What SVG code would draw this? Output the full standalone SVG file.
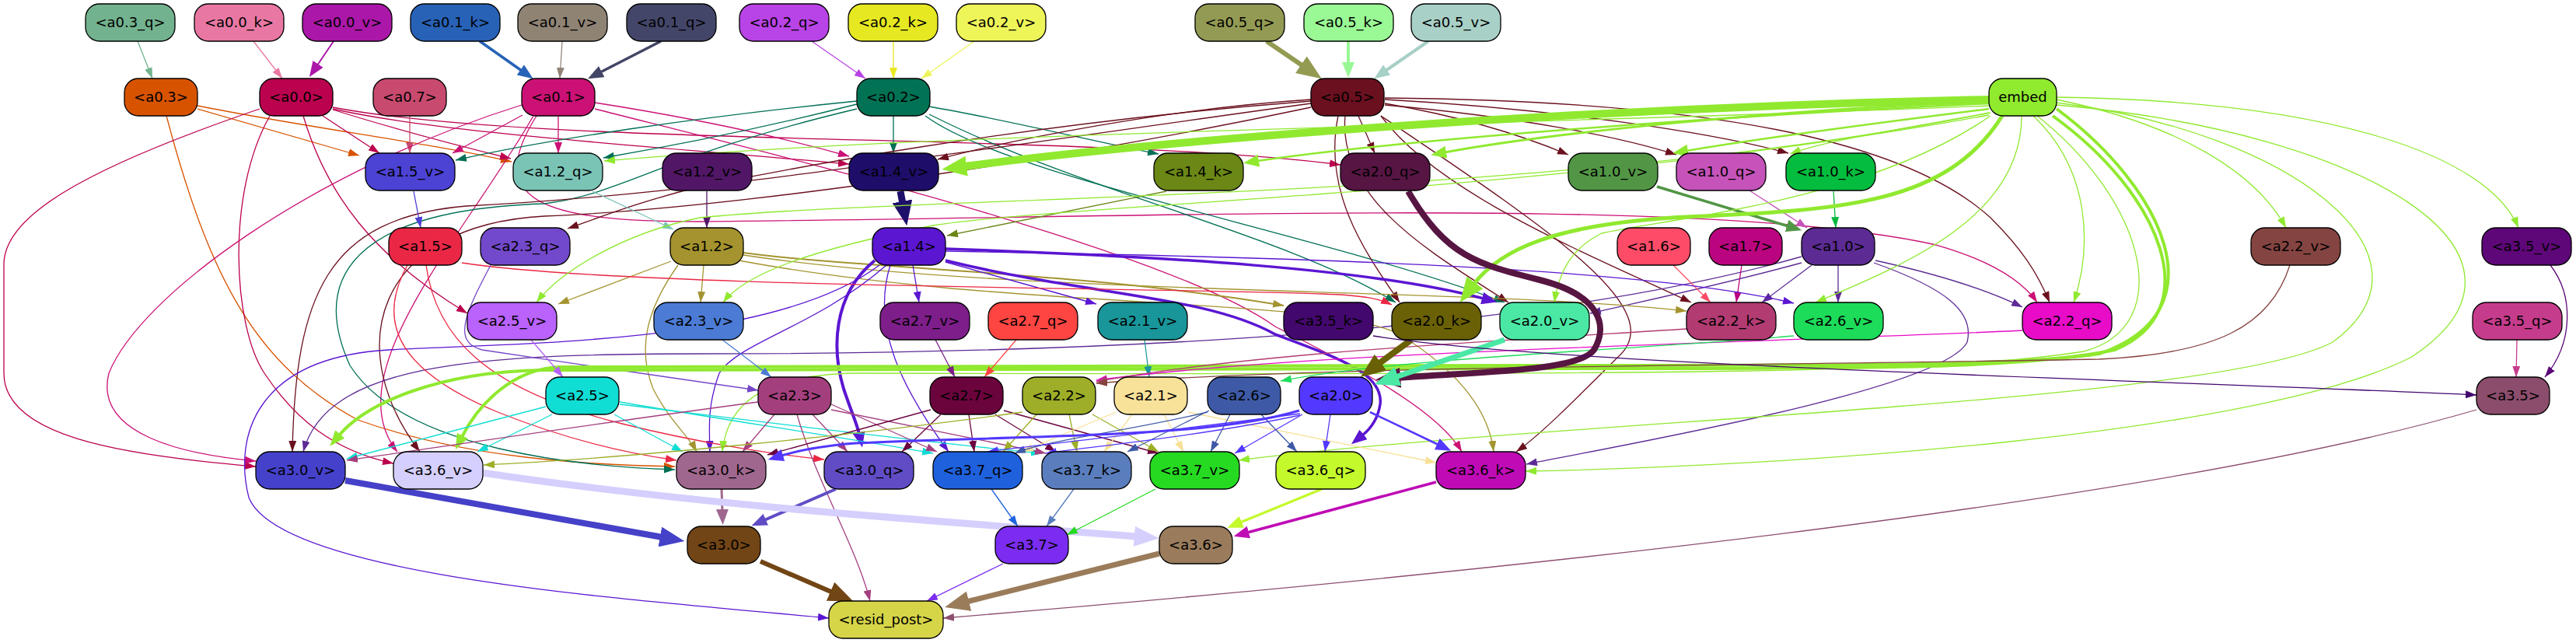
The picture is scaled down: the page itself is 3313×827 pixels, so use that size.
<svg xmlns="http://www.w3.org/2000/svg" width="3313" height="827" viewBox="0 0 3313 827">
<style>
.n rect{stroke:#000;stroke-width:1.3}
.n text{font-family:"DejaVu Sans","Liberation Sans",sans-serif;font-size:18px;text-anchor:middle;fill:#000}
#edges path{fill:none;stroke-width:1.3}
</style>
<defs>
<path id="ah" d="M0,0L10,5L0,10z"/>
<marker id="s73b38f" viewBox="0 0 10 10" refX="10" refY="5" markerWidth="14" markerHeight="10" markerUnits="userSpaceOnUse" orient="auto" preserveAspectRatio="none"><path d="M0,0L10,5L0,10z" fill="#73b38f"/></marker>
<marker id="se878a2" viewBox="0 0 10 10" refX="10" refY="5" markerWidth="14" markerHeight="10" markerUnits="userSpaceOnUse" orient="auto" preserveAspectRatio="none"><path d="M0,0L10,5L0,10z" fill="#e878a2"/></marker>
<marker id="s908376" viewBox="0 0 10 10" refX="10" refY="5" markerWidth="14" markerHeight="10" markerUnits="userSpaceOnUse" orient="auto" preserveAspectRatio="none"><path d="M0,0L10,5L0,10z" fill="#908376"/></marker>
<marker id="sb842e6" viewBox="0 0 10 10" refX="10" refY="5" markerWidth="14" markerHeight="10" markerUnits="userSpaceOnUse" orient="auto" preserveAspectRatio="none"><path d="M0,0L10,5L0,10z" fill="#b842e6"/></marker>
<marker id="se8e820" viewBox="0 0 10 10" refX="10" refY="5" markerWidth="14" markerHeight="10" markerUnits="userSpaceOnUse" orient="auto" preserveAspectRatio="none"><path d="M0,0L10,5L0,10z" fill="#e8e820"/></marker>
<marker id="seef55a" viewBox="0 0 10 10" refX="10" refY="5" markerWidth="14" markerHeight="10" markerUnits="userSpaceOnUse" orient="auto" preserveAspectRatio="none"><path d="M0,0L10,5L0,10z" fill="#eef55a"/></marker>
<marker id="sd85200" viewBox="0 0 10 10" refX="10" refY="5" markerWidth="14" markerHeight="10" markerUnits="userSpaceOnUse" orient="auto" preserveAspectRatio="none"><path d="M0,0L10,5L0,10z" fill="#d85200"/></marker>
<marker id="sbb024d" viewBox="0 0 10 10" refX="10" refY="5" markerWidth="14" markerHeight="10" markerUnits="userSpaceOnUse" orient="auto" preserveAspectRatio="none"><path d="M0,0L10,5L0,10z" fill="#bb024d"/></marker>
<marker id="sc84a6e" viewBox="0 0 10 10" refX="10" refY="5" markerWidth="14" markerHeight="10" markerUnits="userSpaceOnUse" orient="auto" preserveAspectRatio="none"><path d="M0,0L10,5L0,10z" fill="#c84a6e"/></marker>
<marker id="scb1175" viewBox="0 0 10 10" refX="10" refY="5" markerWidth="14" markerHeight="10" markerUnits="userSpaceOnUse" orient="auto" preserveAspectRatio="none"><path d="M0,0L10,5L0,10z" fill="#cb1175"/></marker>
<marker id="s017055" viewBox="0 0 10 10" refX="10" refY="5" markerWidth="14" markerHeight="10" markerUnits="userSpaceOnUse" orient="auto" preserveAspectRatio="none"><path d="M0,0L10,5L0,10z" fill="#017055"/></marker>
<marker id="s6b101e" viewBox="0 0 10 10" refX="10" refY="5" markerWidth="14" markerHeight="10" markerUnits="userSpaceOnUse" orient="auto" preserveAspectRatio="none"><path d="M0,0L10,5L0,10z" fill="#6b101e"/></marker>
<marker id="s7dc4b8" viewBox="0 0 10 10" refX="10" refY="5" markerWidth="14" markerHeight="10" markerUnits="userSpaceOnUse" orient="auto" preserveAspectRatio="none"><path d="M0,0L10,5L0,10z" fill="#7dc4b8"/></marker>
<marker id="s511668" viewBox="0 0 10 10" refX="10" refY="5" markerWidth="14" markerHeight="10" markerUnits="userSpaceOnUse" orient="auto" preserveAspectRatio="none"><path d="M0,0L10,5L0,10z" fill="#511668"/></marker>
<marker id="s6a8616" viewBox="0 0 10 10" refX="10" refY="5" markerWidth="14" markerHeight="10" markerUnits="userSpaceOnUse" orient="auto" preserveAspectRatio="none"><path d="M0,0L10,5L0,10z" fill="#6a8616"/></marker>
<marker id="s4d41d3" viewBox="0 0 10 10" refX="10" refY="5" markerWidth="14" markerHeight="10" markerUnits="userSpaceOnUse" orient="auto" preserveAspectRatio="none"><path d="M0,0L10,5L0,10z" fill="#4d41d3"/></marker>
<marker id="sc653b9" viewBox="0 0 10 10" refX="10" refY="5" markerWidth="14" markerHeight="10" markerUnits="userSpaceOnUse" orient="auto" preserveAspectRatio="none"><path d="M0,0L10,5L0,10z" fill="#c653b9"/></marker>
<marker id="s05b93e" viewBox="0 0 10 10" refX="10" refY="5" markerWidth="14" markerHeight="10" markerUnits="userSpaceOnUse" orient="auto" preserveAspectRatio="none"><path d="M0,0L10,5L0,10z" fill="#05b93e"/></marker>
<marker id="s5c2b95" viewBox="0 0 10 10" refX="10" refY="5" markerWidth="14" markerHeight="10" markerUnits="userSpaceOnUse" orient="auto" preserveAspectRatio="none"><path d="M0,0L10,5L0,10z" fill="#5c2b95"/></marker>
<marker id="sfe4c67" viewBox="0 0 10 10" refX="10" refY="5" markerWidth="14" markerHeight="10" markerUnits="userSpaceOnUse" orient="auto" preserveAspectRatio="none"><path d="M0,0L10,5L0,10z" fill="#fe4c67"/></marker>
<marker id="sbb0580" viewBox="0 0 10 10" refX="10" refY="5" markerWidth="14" markerHeight="10" markerUnits="userSpaceOnUse" orient="auto" preserveAspectRatio="none"><path d="M0,0L10,5L0,10z" fill="#bb0580"/></marker>
<marker id="sa49430" viewBox="0 0 10 10" refX="10" refY="5" markerWidth="14" markerHeight="10" markerUnits="userSpaceOnUse" orient="auto" preserveAspectRatio="none"><path d="M0,0L10,5L0,10z" fill="#a49430"/></marker>
<marker id="s5b16d2" viewBox="0 0 10 10" refX="10" refY="5" markerWidth="14" markerHeight="10" markerUnits="userSpaceOnUse" orient="auto" preserveAspectRatio="none"><path d="M0,0L10,5L0,10z" fill="#5b16d2"/></marker>
<marker id="sea2744" viewBox="0 0 10 10" refX="10" refY="5" markerWidth="14" markerHeight="10" markerUnits="userSpaceOnUse" orient="auto" preserveAspectRatio="none"><path d="M0,0L10,5L0,10z" fill="#ea2744"/></marker>
<marker id="s7447c8" viewBox="0 0 10 10" refX="10" refY="5" markerWidth="14" markerHeight="10" markerUnits="userSpaceOnUse" orient="auto" preserveAspectRatio="none"><path d="M0,0L10,5L0,10z" fill="#7447c8"/></marker>
<marker id="s90e92f" viewBox="0 0 10 10" refX="10" refY="5" markerWidth="14" markerHeight="10" markerUnits="userSpaceOnUse" orient="auto" preserveAspectRatio="none"><path d="M0,0L10,5L0,10z" fill="#90e92f"/></marker>
<marker id="sb761f8" viewBox="0 0 10 10" refX="10" refY="5" markerWidth="14" markerHeight="10" markerUnits="userSpaceOnUse" orient="auto" preserveAspectRatio="none"><path d="M0,0L10,5L0,10z" fill="#b761f8"/></marker>
<marker id="s4b7bd4" viewBox="0 0 10 10" refX="10" refY="5" markerWidth="14" markerHeight="10" markerUnits="userSpaceOnUse" orient="auto" preserveAspectRatio="none"><path d="M0,0L10,5L0,10z" fill="#4b7bd4"/></marker>
<marker id="s7d1e8a" viewBox="0 0 10 10" refX="10" refY="5" markerWidth="14" markerHeight="10" markerUnits="userSpaceOnUse" orient="auto" preserveAspectRatio="none"><path d="M0,0L10,5L0,10z" fill="#7d1e8a"/></marker>
<marker id="sfe4642" viewBox="0 0 10 10" refX="10" refY="5" markerWidth="14" markerHeight="10" markerUnits="userSpaceOnUse" orient="auto" preserveAspectRatio="none"><path d="M0,0L10,5L0,10z" fill="#fe4642"/></marker>
<marker id="s19979a" viewBox="0 0 10 10" refX="10" refY="5" markerWidth="14" markerHeight="10" markerUnits="userSpaceOnUse" orient="auto" preserveAspectRatio="none"><path d="M0,0L10,5L0,10z" fill="#19979a"/></marker>
<marker id="se80cc8" viewBox="0 0 10 10" refX="10" refY="5" markerWidth="14" markerHeight="10" markerUnits="userSpaceOnUse" orient="auto" preserveAspectRatio="none"><path d="M0,0L10,5L0,10z" fill="#e80cc8"/></marker>
<marker id="sb23b72" viewBox="0 0 10 10" refX="10" refY="5" markerWidth="14" markerHeight="10" markerUnits="userSpaceOnUse" orient="auto" preserveAspectRatio="none"><path d="M0,0L10,5L0,10z" fill="#b23b72"/></marker>
<marker id="s854340" viewBox="0 0 10 10" refX="10" refY="5" markerWidth="14" markerHeight="10" markerUnits="userSpaceOnUse" orient="auto" preserveAspectRatio="none"><path d="M0,0L10,5L0,10z" fill="#854340"/></marker>
<marker id="s1ddd5a" viewBox="0 0 10 10" refX="10" refY="5" markerWidth="14" markerHeight="10" markerUnits="userSpaceOnUse" orient="auto" preserveAspectRatio="none"><path d="M0,0L10,5L0,10z" fill="#1ddd5a"/></marker>
<marker id="s10ddd4" viewBox="0 0 10 10" refX="10" refY="5" markerWidth="14" markerHeight="10" markerUnits="userSpaceOnUse" orient="auto" preserveAspectRatio="none"><path d="M0,0L10,5L0,10z" fill="#10ddd4"/></marker>
<marker id="sa43f7f" viewBox="0 0 10 10" refX="10" refY="5" markerWidth="14" markerHeight="10" markerUnits="userSpaceOnUse" orient="auto" preserveAspectRatio="none"><path d="M0,0L10,5L0,10z" fill="#a43f7f"/></marker>
<marker id="s6b033e" viewBox="0 0 10 10" refX="10" refY="5" markerWidth="14" markerHeight="10" markerUnits="userSpaceOnUse" orient="auto" preserveAspectRatio="none"><path d="M0,0L10,5L0,10z" fill="#6b033e"/></marker>
<marker id="s9eae28" viewBox="0 0 10 10" refX="10" refY="5" markerWidth="14" markerHeight="10" markerUnits="userSpaceOnUse" orient="auto" preserveAspectRatio="none"><path d="M0,0L10,5L0,10z" fill="#9eae28"/></marker>
<marker id="sf8e096" viewBox="0 0 10 10" refX="10" refY="5" markerWidth="14" markerHeight="10" markerUnits="userSpaceOnUse" orient="auto" preserveAspectRatio="none"><path d="M0,0L10,5L0,10z" fill="#f8e096"/></marker>
<marker id="s3e5aa6" viewBox="0 0 10 10" refX="10" refY="5" markerWidth="14" markerHeight="10" markerUnits="userSpaceOnUse" orient="auto" preserveAspectRatio="none"><path d="M0,0L10,5L0,10z" fill="#3e5aa6"/></marker>
<marker id="s5338fe" viewBox="0 0 10 10" refX="10" refY="5" markerWidth="14" markerHeight="10" markerUnits="userSpaceOnUse" orient="auto" preserveAspectRatio="none"><path d="M0,0L10,5L0,10z" fill="#5338fe"/></marker>
<marker id="sc63c8c" viewBox="0 0 10 10" refX="10" refY="5" markerWidth="14" markerHeight="10" markerUnits="userSpaceOnUse" orient="auto" preserveAspectRatio="none"><path d="M0,0L10,5L0,10z" fill="#c63c8c"/></marker>
<marker id="s5d0777" viewBox="0 0 10 10" refX="10" refY="5" markerWidth="14" markerHeight="10" markerUnits="userSpaceOnUse" orient="auto" preserveAspectRatio="none"><path d="M0,0L10,5L0,10z" fill="#5d0777"/></marker>
<marker id="s43086e" viewBox="0 0 10 10" refX="10" refY="5" markerWidth="14" markerHeight="10" markerUnits="userSpaceOnUse" orient="auto" preserveAspectRatio="none"><path d="M0,0L10,5L0,10z" fill="#43086e"/></marker>
<marker id="s8d4e6f" viewBox="0 0 10 10" refX="10" refY="5" markerWidth="14" markerHeight="10" markerUnits="userSpaceOnUse" orient="auto" preserveAspectRatio="none"><path d="M0,0L10,5L0,10z" fill="#8d4e6f"/></marker>
<marker id="s1f65de" viewBox="0 0 10 10" refX="10" refY="5" markerWidth="14" markerHeight="10" markerUnits="userSpaceOnUse" orient="auto" preserveAspectRatio="none"><path d="M0,0L10,5L0,10z" fill="#1f65de"/></marker>
<marker id="s5a7dbd" viewBox="0 0 10 10" refX="10" refY="5" markerWidth="14" markerHeight="10" markerUnits="userSpaceOnUse" orient="auto" preserveAspectRatio="none"><path d="M0,0L10,5L0,10z" fill="#5a7dbd"/></marker>
<marker id="s27da20" viewBox="0 0 10 10" refX="10" refY="5" markerWidth="14" markerHeight="10" markerUnits="userSpaceOnUse" orient="auto" preserveAspectRatio="none"><path d="M0,0L10,5L0,10z" fill="#27da20"/></marker>
<marker id="s7c2cf1" viewBox="0 0 10 10" refX="10" refY="5" markerWidth="14" markerHeight="10" markerUnits="userSpaceOnUse" orient="auto" preserveAspectRatio="none"><path d="M0,0L10,5L0,10z" fill="#7c2cf1"/></marker>
<marker id="mab17a8" viewBox="0 0 10 10" refX="1" refY="5" markerWidth="20" markerHeight="16" markerUnits="userSpaceOnUse" orient="auto" preserveAspectRatio="none"><path d="M0,0L10,5L0,10z" fill="#ab17a8"/></marker>
<marker id="m2763b8" viewBox="0 0 10 10" refX="1" refY="5" markerWidth="20" markerHeight="16" markerUnits="userSpaceOnUse" orient="auto" preserveAspectRatio="none"><path d="M0,0L10,5L0,10z" fill="#2763b8"/></marker>
<marker id="m434566" viewBox="0 0 10 10" refX="1" refY="5" markerWidth="20" markerHeight="16" markerUnits="userSpaceOnUse" orient="auto" preserveAspectRatio="none"><path d="M0,0L10,5L0,10z" fill="#434566"/></marker>
<marker id="m99f896" viewBox="0 0 10 10" refX="1" refY="5" markerWidth="20" markerHeight="16" markerUnits="userSpaceOnUse" orient="auto" preserveAspectRatio="none"><path d="M0,0L10,5L0,10z" fill="#99f896"/></marker>
<marker id="ma7d0c7" viewBox="0 0 10 10" refX="1" refY="5" markerWidth="20" markerHeight="16" markerUnits="userSpaceOnUse" orient="auto" preserveAspectRatio="none"><path d="M0,0L10,5L0,10z" fill="#a7d0c7"/></marker>
<marker id="m519645" viewBox="0 0 10 10" refX="1" refY="5" markerWidth="20" markerHeight="16" markerUnits="userSpaceOnUse" orient="auto" preserveAspectRatio="none"><path d="M0,0L10,5L0,10z" fill="#519645"/></marker>
<marker id="m5b16d2" viewBox="0 0 10 10" refX="1" refY="5" markerWidth="20" markerHeight="16" markerUnits="userSpaceOnUse" orient="auto" preserveAspectRatio="none"><path d="M0,0L10,5L0,10z" fill="#5b16d2"/></marker>
<marker id="m90e92f" viewBox="0 0 10 10" refX="1" refY="5" markerWidth="20" markerHeight="16" markerUnits="userSpaceOnUse" orient="auto" preserveAspectRatio="none"><path d="M0,0L10,5L0,10z" fill="#90e92f"/></marker>
<marker id="m5338fe" viewBox="0 0 10 10" refX="1" refY="5" markerWidth="20" markerHeight="16" markerUnits="userSpaceOnUse" orient="auto" preserveAspectRatio="none"><path d="M0,0L10,5L0,10z" fill="#5338fe"/></marker>
<marker id="ma0688e" viewBox="0 0 10 10" refX="1" refY="5" markerWidth="20" markerHeight="16" markerUnits="userSpaceOnUse" orient="auto" preserveAspectRatio="none"><path d="M0,0L10,5L0,10z" fill="#a0688e"/></marker>
<marker id="m614cc6" viewBox="0 0 10 10" refX="1" refY="5" markerWidth="20" markerHeight="16" markerUnits="userSpaceOnUse" orient="auto" preserveAspectRatio="none"><path d="M0,0L10,5L0,10z" fill="#614cc6"/></marker>
<marker id="mc4f92c" viewBox="0 0 10 10" refX="1" refY="5" markerWidth="20" markerHeight="16" markerUnits="userSpaceOnUse" orient="auto" preserveAspectRatio="none"><path d="M0,0L10,5L0,10z" fill="#c4f92c"/></marker>
<marker id="mbf0bb5" viewBox="0 0 10 10" refX="1" refY="5" markerWidth="20" markerHeight="16" markerUnits="userSpaceOnUse" orient="auto" preserveAspectRatio="none"><path d="M0,0L10,5L0,10z" fill="#bf0bb5"/></marker>
<marker id="l939a52" viewBox="0 0 10 10" refX="1" refY="5" markerWidth="32" markerHeight="26" markerUnits="userSpaceOnUse" orient="auto" preserveAspectRatio="none"><path d="M0,0L10,5L0,10z" fill="#939a52"/></marker>
<marker id="l1e0f6b" viewBox="0 0 10 10" refX="1" refY="5" markerWidth="32" markerHeight="26" markerUnits="userSpaceOnUse" orient="auto" preserveAspectRatio="none"><path d="M0,0L10,5L0,10z" fill="#1e0f6b"/></marker>
<marker id="l90e92f" viewBox="0 0 10 10" refX="1" refY="5" markerWidth="32" markerHeight="26" markerUnits="userSpaceOnUse" orient="auto" preserveAspectRatio="none"><path d="M0,0L10,5L0,10z" fill="#90e92f"/></marker>
<marker id="l6a6106" viewBox="0 0 10 10" refX="1" refY="5" markerWidth="32" markerHeight="26" markerUnits="userSpaceOnUse" orient="auto" preserveAspectRatio="none"><path d="M0,0L10,5L0,10z" fill="#6a6106"/></marker>
<marker id="l571542" viewBox="0 0 10 10" refX="1" refY="5" markerWidth="32" markerHeight="26" markerUnits="userSpaceOnUse" orient="auto" preserveAspectRatio="none"><path d="M0,0L10,5L0,10z" fill="#571542"/></marker>
<marker id="l4be8a5" viewBox="0 0 10 10" refX="1" refY="5" markerWidth="32" markerHeight="26" markerUnits="userSpaceOnUse" orient="auto" preserveAspectRatio="none"><path d="M0,0L10,5L0,10z" fill="#4be8a5"/></marker>
<marker id="l4541c8" viewBox="0 0 10 10" refX="1" refY="5" markerWidth="32" markerHeight="26" markerUnits="userSpaceOnUse" orient="auto" preserveAspectRatio="none"><path d="M0,0L10,5L0,10z" fill="#4541c8"/></marker>
<marker id="ld5cffd" viewBox="0 0 10 10" refX="1" refY="5" markerWidth="32" markerHeight="26" markerUnits="userSpaceOnUse" orient="auto" preserveAspectRatio="none"><path d="M0,0L10,5L0,10z" fill="#d5cffd"/></marker>
<marker id="l9a7c5b" viewBox="0 0 10 10" refX="1" refY="5" markerWidth="32" markerHeight="26" markerUnits="userSpaceOnUse" orient="auto" preserveAspectRatio="none"><path d="M0,0L10,5L0,10z" fill="#9a7c5b"/></marker>
<marker id="l724515" viewBox="0 0 10 10" refX="1" refY="5" markerWidth="32" markerHeight="26" markerUnits="userSpaceOnUse" orient="auto" preserveAspectRatio="none"><path d="M0,0L10,5L0,10z" fill="#724515"/></marker>
</defs>
<rect width="3313" height="827" fill="#fff"/>
<g id="edges">
<g stroke="#73b38f" marker-end="url(#s73b38f)"><path d="M177,53 L196,101"/></g>
<g stroke="#e878a2" marker-end="url(#se878a2)"><path d="M326,53 L363,101"/></g>
<g stroke="#ab17a8" marker-end="url(#mab17a8)"><path d="M429,53 L408,84" style="stroke-width:2"/></g>
<g stroke="#2763b8" marker-end="url(#m2763b8)"><path d="M617,53 L671,91" style="stroke-width:3.5"/></g>
<g stroke="#908376" marker-end="url(#s908376)"><path d="M723,53 L720,101"/></g>
<g stroke="#434566" marker-end="url(#m434566)"><path d="M850,53 L772,93" style="stroke-width:3.5"/></g>
<g stroke="#b842e6" marker-end="url(#sb842e6)"><path d="M1044,53 L1113,101"/></g>
<g stroke="#e8e820" marker-end="url(#se8e820)"><path d="M1149,53 L1149,101"/></g>
<g stroke="#eef55a" marker-end="url(#seef55a)"><path d="M1253,53 L1185,101"/></g>
<g stroke="#939a52" marker-end="url(#l939a52)"><path d="M1629,53 L1676,85" style="stroke-width:6"/></g>
<g stroke="#99f896" marker-end="url(#m99f896)"><path d="M1734,53 L1734,82" style="stroke-width:4"/></g>
<g stroke="#a7d0c7" marker-end="url(#ma7d0c7)"><path d="M1837,53 L1782,91" style="stroke-width:4"/></g>
<g stroke="#d85200" marker-end="url(#sd85200)">
<path d="M254,140 L462,200"/>
<path d="M254,136 C400,165 560,185 658,208"/>
<path d="M214,149 C270,360 330,470 460,540 C600,590 760,598 868,600"/>
</g>
<g stroke="#bb024d" marker-end="url(#sbb024d)">
<path d="M415,149 L488,197"/>
<path d="M428,141 C520,170 600,190 657,204"/>
<path d="M428,140 C560,170 800,185 1092,211"/>
<path d="M428,138 C700,190 1400,170 1724,212"/>
<path d="M334,140 C100,220 5,280 5,340 L5,480 C5,560 150,585 329,600"/>
<path d="M347,149 C290,250 300,420 340,480 C380,540 430,580 506,596"/>
<path d="M390,149 C420,250 480,330 601,403"/>
</g>
<g stroke="#c84a6e" marker-end="url(#sc84a6e)"><path d="M527,149 L527,197"/></g>
<g stroke="#cb1175" marker-end="url(#scb1175)">
<path d="M672,148 L582,197"/>
<path d="M718,149 L718,197"/>
<path d="M765,132 C880,150 1000,175 1092,201"/>
<path d="M671,135 C400,220 180,380 140,480 C120,560 240,585 329,593"/>
<path d="M686,149 C600,300 430,480 511,581"/>
<path d="M690,149 C620,260 700,285 900,285 C1500,280 2200,250 2490,315 C2560,335 2600,360 2620,389"/>
<path d="M765,140 C1000,200 1500,320 1640,420 C1760,480 1850,530 1880,581"/>
</g>
<g stroke="#017055" marker-end="url(#s017055)">
<path d="M1149,149 L1149,197"/>
<path d="M1102,130 C900,150 700,180 586,206"/>
<path d="M1102,134 C1000,160 880,185 776,203"/>
<path d="M1195,137 C1300,155 1420,185 1490,198"/>
<path d="M1195,147 C1400,250 1650,300 1795,389"/>
<path d="M1190,149 C1300,230 1700,300 1935,389"/>
<path d="M1102,140 C850,200 800,250 700,262 C450,270 400,360 450,470 C520,580 750,600 868,604"/>
</g>
<g stroke="#6b101e" marker-end="url(#s6b101e)">
<path d="M1686,128 C1500,140 1300,180 1206,205"/>
<path d="M1747,149 L1768,197"/>
<path d="M1781,133 C1880,150 1960,175 2017,199"/>
<path d="M1781,135 C1950,150 2080,175 2156,199"/>
<path d="M1781,128 C2000,140 2200,170 2300,197"/>
<path d="M1781,126 C2200,130 2450,180 2560,280 C2600,320 2620,350 2636,389"/>
<path d="M1776,149 C1850,250 2050,330 2175,389"/>
<path d="M1721,149 C1700,250 1760,330 1800,389"/>
<path d="M1730,149 C1720,260 1850,330 1940,389"/>
<path d="M1776,149 C2000,300 2150,400 2080,460 C2020,520 1980,560 1950,581"/>
<path d="M1686,130 C1300,160 1000,220 900,240 C820,260 770,280 730,294"/>
<path d="M1686,133 C1200,200 900,250 600,265 C420,280 380,380 376,581"/>
<path d="M1686,138 C1300,220 900,270 700,278 C480,290 440,450 540,581"/>
</g>
<g stroke="#7dc4b8" marker-end="url(#s7dc4b8)"><path d="M762,246 L866,295"/></g>
<g stroke="#511668" marker-end="url(#s511668)"><path d="M909,246 L909,293"/></g>
<g stroke="#1e0f6b" marker-end="url(#l1e0f6b)"><path d="M1158,246 L1161,262" style="stroke-width:9"/></g>
<g stroke="#6a8616" marker-end="url(#s6a8616)"><path d="M1500,246 L1218,303"/></g>
<g stroke="#4d41d3" marker-end="url(#s4d41d3)"><path d="M532,246 L541,293"/></g>
<g stroke="#519645" marker-end="url(#m519645)"><path d="M2131,240 L2300,291" style="stroke-width:3.5"/></g>
<g stroke="#c653b9" marker-end="url(#sc653b9)"><path d="M2250,245 L2324,293"/></g>
<g stroke="#05b93e" marker-end="url(#s05b93e)"><path d="M2358,246 L2361,293"/></g>
<g stroke="#5c2b95" marker-end="url(#s5c2b95)">
<path d="M2330,341 L2266,389"/>
<path d="M2364,341 L2364,389"/>
<path d="M2317,338 C2200,370 2100,390 2045,403"/>
<path d="M2412,335 C2480,350 2550,370 2601,395"/>
<path d="M2410,338 C2500,370 2540,400 2530,440 C2500,500 2100,570 1963,597"/>
<path d="M2317,330 C2000,420 1500,455 900,455 C600,455 420,470 390,581"/>
</g>
<g stroke="#fe4c67" marker-end="url(#sfe4c67)"><path d="M2152,341 L2200,389"/></g>
<g stroke="#bb0580" marker-end="url(#sbb0580)"><path d="M2240,341 L2233,389"/></g>
<g stroke="#a49430" marker-end="url(#sa49430)">
<path d="M863,336 L718,391"/>
<path d="M905,341 L901,389"/>
<path d="M872,341 C830,400 820,450 840,500 C860,540 885,560 896,581"/>
<path d="M956,325 C1100,345 1400,350 1651,393" style="stroke-width:2"/>
<path d="M956,328 C1300,380 1900,370 2169,400"/>
<path d="M950,335 C1300,400 1700,380 1800,430 C1880,480 1915,530 1921,581"/>
</g>
<g stroke="#5b16d2" marker-end="url(#s5b16d2)">
<path d="M1174,341 L1182,389"/>
<path d="M1216,337 L1410,391"/>
<path d="M1125,335 C1070,380 1070,450 1085,500 C1095,530 1102,545 1105,558" style="stroke-width:4" marker-end="url(#m5b16d2)"/>
<path d="M1216,335 C1400,380 1550,380 1640,430 C1720,460 1780,480 1775,520 C1772,540 1762,552 1752,560" style="stroke-width:3.5" marker-end="url(#m5b16d2)"/>
<path d="M1216,320 C1500,330 1760,345 1908,384" style="stroke-width:3.5" marker-end="url(#m5b16d2)"/>
<path d="M1216,323 C1600,330 2100,340 2307,390"/>
<path d="M1145,341 C1120,420 1160,500 1220,581"/>
<path d="M1131,341 C1000,440 700,440 500,450 C330,460 300,560 320,640 C360,740 800,770 1066,795"/>
<path d="M1140,341 C1050,420 950,440 925,480 C910,520 912,550 913,581"/>
</g>
<g stroke="#ea2744" marker-end="url(#sea2744)">
<path d="M524,341 C480,420 520,480 640,530 C740,570 820,585 870,592"/>
<path d="M548,341 C560,430 620,500 800,545 C900,570 1000,585 1060,591"/>
<path d="M594,338 C800,370 1500,370 1700,378 C1760,380 1775,385 1790,392"/>
</g>
<g stroke="#7447c8" marker-end="url(#s7447c8)"><path d="M631,341 C600,400 580,440 620,450 C750,470 900,490 975,502"/></g>
<g stroke="#90e92f" marker-end="url(#s90e92f)">
<path d="M2558,128 C2000,140 1500,180 1240,214" style="stroke-width:10" marker-end="url(#l90e92f)"/>
<path d="M2558,136 C2000,160 1200,170 777,207"/>
<path d="M2558,133 C2200,150 1800,180 1617,207" style="stroke-width:2.5" marker-end="url(#m90e92f)"/>
<path d="M2558,131 C2300,140 2000,170 1858,196" style="stroke-width:3" marker-end="url(#m90e92f)"/>
<path d="M2558,140 C2400,160 2250,180 2169,194" style="stroke-width:2.5" marker-end="url(#m90e92f)"/>
<path d="M2560,145 C2450,165 2350,180 2302,198"/>
<path d="M2645,128 C2800,160 2900,220 2940,293"/>
<path d="M2645,125 C3000,130 3200,200 3239,293"/>
<path d="M2615,149 C2690,220 2690,320 2667,389"/>
<path d="M2575,149 C2500,270 2350,270 2150,280 C2000,290 1930,320 1895,366" style="stroke-width:5" marker-end="url(#l90e92f)"/>
<path d="M2558,145 C2000,260 1200,250 900,280 C800,300 720,350 690,389"/>
<path d="M2558,148 C2000,250 1400,260 1200,290 C1050,320 960,350 930,389"/>
<path d="M2560,149 C2400,260 2150,280 2060,300 C2020,320 2005,350 1999,389"/>
<path d="M2600,149 C2600,280 2450,340 2335,389"/>
<path d="M2640,149 C2780,250 2840,400 2720,450 C2600,475 2400,474 2000,474 L700,476 C560,478 470,520 436,560" style="stroke-width:4" marker-end="url(#m90e92f)"/>
<path d="M2645,140 C2780,240 2860,400 2700,455 C2600,470 2400,470 2000,470 L720,472 C660,474 615,520 594,562" style="stroke-width:4" marker-end="url(#m90e92f)"/>
<path d="M2620,149 C2760,260 2800,420 2680,452 C2500,480 2200,482 1100,480 C980,482 935,520 929,581"/>
<path d="M2645,132 C2950,170 3150,330 3000,440 C2850,520 2000,540 1593,592"/>
<path d="M2645,135 C3050,170 3300,330 3100,460 C2900,560 2300,600 1962,606"/>
</g>
<g stroke="#b761f8" marker-end="url(#sb761f8)"><path d="M683,437 L724,485"/></g>
<g stroke="#4b7bd4" marker-end="url(#s4b7bd4)"><path d="M929,437 L992,485"/></g>
<g stroke="#7d1e8a" marker-end="url(#s7d1e8a)"><path d="M1203,437 L1228,485"/></g>
<g stroke="#fe4642" marker-end="url(#sfe4642)"><path d="M1307,437 L1266,485"/></g>
<g stroke="#19979a" marker-end="url(#s19979a)"><path d="M1472,437 L1478,485"/></g>
<g stroke="#e80cc8" marker-end="url(#se80cc8)"><path d="M2601,425 C2300,440 1700,450 1410,489"/></g>
<g stroke="#b23b72" marker-end="url(#sb23b72)"><path d="M2170,423 C1900,440 1600,455 1410,491"/></g>
<g stroke="#854340" marker-end="url(#s854340)"><path d="M2945,341 C2920,420 2850,455 2700,462 C2300,470 1700,470 1410,493"/></g>
<g stroke="#1ddd5a" marker-end="url(#s1ddd5a)"><path d="M2307,432 C2100,450 1800,460 1647,490"/></g>
<g stroke="#6a6106" marker-end="url(#l6a6106)"><path d="M1815,437 L1773,468" style="stroke-width:8"/></g>
<g stroke="#571542" marker-end="url(#l571542)"><path d="M1811,246 C1860,330 1900,340 1980,360 C2060,380 2068,420 2050,450 C2030,478 1900,478 1798,486" style="stroke-width:8"/></g>
<g stroke="#4be8a5" marker-end="url(#l4be8a5)"><path d="M1935,437 L1795,485" style="stroke-width:7"/></g>
<g stroke="#10ddd4" marker-end="url(#s10ddd4)">
<path d="M702,523 L446,590"/>
<path d="M710,533 L614,581"/>
<path d="M790,533 L878,581"/>
<path d="M797,517 C900,535 1100,565 1200,583"/>
<path d="M797,520 C1000,545 1200,570 1340,583"/>
</g>
<g stroke="#a43f7f" marker-end="url(#sa43f7f)">
<path d="M975,517 C800,540 600,570 446,592"/>
<path d="M996,533 L955,581"/>
<path d="M1025,533 C1050,620 1100,700 1119,773"/>
<path d="M1045,533 L1090,581"/>
<path d="M1069,520 L1205,581"/>
<path d="M1069,527 L1345,583"/>
</g>
<g stroke="#6b033e" marker-end="url(#s6b033e)">
<path d="M1197,527 L987,585"/>
<path d="M1210,533 L1160,581"/>
<path d="M1246,533 L1253,581"/>
<path d="M1280,533 L1358,581"/>
<path d="M1291,528 L1490,583"/>
</g>
<g stroke="#9eae28" marker-end="url(#s9eae28)">
<path d="M1315,530 C1100,560 800,590 622,598"/>
<path d="M1333,533 L1290,581"/>
<path d="M1375,533 L1385,581"/>
<path d="M1405,533 L1490,581"/>
</g>
<g stroke="#f8e096" marker-end="url(#sf8e096)">
<path d="M1435,530 L1315,581"/>
<path d="M1456,533 L1420,581"/>
<path d="M1497,533 L1522,581"/>
<path d="M1528,530 L1847,595"/>
</g>
<g stroke="#3e5aa6" marker-end="url(#s3e5aa6)">
<path d="M1555,528 L1450,581"/>
<path d="M1582,533 L1557,581"/>
<path d="M1622,533 L1668,581"/>
<path d="M1553,530 C1450,555 1350,565 1305,583"/>
</g>
<g stroke="#5338fe" marker-end="url(#s5338fe)">
<path d="M1671,528 C1550,565 1300,560 1100,570 C1050,574 1025,580 1005,586" style="stroke-width:3" marker-end="url(#m5338fe)"/>
<path d="M1672,532 C1500,555 1350,570 1270,581"/>
<path d="M1672,534 C1550,560 1400,575 1345,583"/>
<path d="M1675,533 L1588,583"/>
<path d="M1711,533 L1704,581"/>
<path d="M1762,530 L1850,572" style="stroke-width:2.5" marker-end="url(#m5338fe)"/>
</g>
<g stroke="#c63c8c" marker-end="url(#sc63c8c)"><path d="M3237,437 L3236,485"/></g>
<g stroke="#5d0777" marker-end="url(#s5d0777)"><path d="M3280,341 C3310,380 3310,440 3273,485"/></g>
<g stroke="#43086e" marker-end="url(#s43086e)"><path d="M1766,432 C2000,470 2800,490 3185,508"/></g>
<g stroke="#8d4e6f" marker-end="url(#s8d4e6f)"><path d="M3185,527 C2800,640 2000,730 1213,795"/></g>
<g stroke="#4541c8" marker-end="url(#l4541c8)"><path d="M444,618 L852,691" style="stroke-width:8"/></g>
<g stroke="#a0688e" marker-end="url(#ma0688e)"><path d="M928,629 L929,657" style="stroke-width:3"/></g>
<g stroke="#614cc6" marker-end="url(#m614cc6)"><path d="M1075,629 L983,669" style="stroke-width:4"/></g>
<g stroke="#d5cffd" marker-end="url(#ld5cffd)"><path d="M620,608 C900,650 1200,670 1462,690" style="stroke-width:9"/></g>
<g stroke="#c4f92c" marker-end="url(#mc4f92c)"><path d="M1700,629 L1595,672" style="stroke-width:3.5"/></g>
<g stroke="#bf0bb5" marker-end="url(#mbf0bb5)"><path d="M1847,620 L1604,685" style="stroke-width:3.5"/></g>
<g stroke="#1f65de" marker-end="url(#s1f65de)"><path d="M1275,629 L1309,677"/></g>
<g stroke="#5a7dbd" marker-end="url(#s5a7dbd)"><path d="M1381,629 L1346,677"/></g>
<g stroke="#27da20" marker-end="url(#s27da20)"><path d="M1486,629 L1372,688"/></g>
<g stroke="#724515" marker-end="url(#l724515)"><path d="M978,722 L1071,762" style="stroke-width:6"/></g>
<g stroke="#7c2cf1" marker-end="url(#s7c2cf1)"><path d="M1290,725 L1192,773"/></g>
<g stroke="#9a7c5b" marker-end="url(#l9a7c5b)"><path d="M1491,712 L1243,774" style="stroke-width:7"/></g>
</g>
<g id="nodes">
<g id="n-a0_3_q" class="n"><rect x="110" y="5" width="115" height="48" rx="18" fill="#72b28e"/><text x="167.5" y="35">&lt;a0.3_q&gt;</text></g>
<g id="n-a0_0_k" class="n"><rect x="250" y="5" width="115" height="48" rx="18" fill="#e878a3"/><text x="307.5" y="35">&lt;a0.0_k&gt;</text></g>
<g id="n-a0_0_v" class="n"><rect x="389" y="5" width="115" height="48" rx="18" fill="#ab17a8"/><text x="446.5" y="35">&lt;a0.0_v&gt;</text></g>
<g id="n-a0_1_k" class="n"><rect x="528" y="5" width="115" height="48" rx="18" fill="#2862b7"/><text x="585.5" y="35">&lt;a0.1_k&gt;</text></g>
<g id="n-a0_1_v" class="n"><rect x="666" y="5" width="115" height="48" rx="18" fill="#8f8374"/><text x="723.5" y="35">&lt;a0.1_v&gt;</text></g>
<g id="n-a0_1_q" class="n"><rect x="806" y="5" width="115" height="48" rx="18" fill="#434668"/><text x="863.5" y="35">&lt;a0.1_q&gt;</text></g>
<g id="n-a0_2_q" class="n"><rect x="951" y="5" width="115" height="48" rx="18" fill="#b843e6"/><text x="1008.5" y="35">&lt;a0.2_q&gt;</text></g>
<g id="n-a0_2_k" class="n"><rect x="1091" y="5" width="115" height="48" rx="18" fill="#e6e822"/><text x="1148.5" y="35">&lt;a0.2_k&gt;</text></g>
<g id="n-a0_2_v" class="n"><rect x="1230" y="5" width="115" height="48" rx="18" fill="#eef559"/><text x="1287.5" y="35">&lt;a0.2_v&gt;</text></g>
<g id="n-a0_5_q" class="n"><rect x="1537" y="5" width="115" height="48" rx="18" fill="#939a53"/><text x="1594.5" y="35">&lt;a0.5_q&gt;</text></g>
<g id="n-a0_5_k" class="n"><rect x="1677" y="5" width="115" height="48" rx="18" fill="#9af895"/><text x="1734.5" y="35">&lt;a0.5_k&gt;</text></g>
<g id="n-a0_5_v" class="n"><rect x="1815" y="5" width="115" height="48" rx="18" fill="#a8d0c6"/><text x="1872.5" y="35">&lt;a0.5_v&gt;</text></g>
<g id="n-a0_3" class="n"><rect x="160" y="101" width="94" height="48" rx="18" fill="#d85300"/><text x="207" y="131">&lt;a0.3&gt;</text></g>
<g id="n-a0_0" class="n"><rect x="334" y="101" width="94" height="48" rx="18" fill="#bb024e"/><text x="381" y="131">&lt;a0.0&gt;</text></g>
<g id="n-a0_7" class="n"><rect x="480" y="101" width="94" height="48" rx="18" fill="#c84a6e"/><text x="527" y="131">&lt;a0.7&gt;</text></g>
<g id="n-a0_1" class="n"><rect x="671" y="101" width="94" height="48" rx="18" fill="#cb1175"/><text x="718" y="131">&lt;a0.1&gt;</text></g>
<g id="n-a0_2" class="n"><rect x="1102" y="101" width="94" height="48" rx="18" fill="#027255"/><text x="1149" y="131">&lt;a0.2&gt;</text></g>
<g id="n-a0_5" class="n"><rect x="1686" y="101" width="94" height="48" rx="18" fill="#6a101f"/><text x="1733" y="131">&lt;a0.5&gt;</text></g>
<g id="n-embed" class="n"><rect x="2558" y="101" width="87" height="48" rx="18" fill="#90ea2e"/><text x="2601.5" y="131">embed</text></g>
<g id="n-a1_5_v" class="n"><rect x="470" y="197" width="115" height="48" rx="18" fill="#4c42d4"/><text x="527.5" y="227">&lt;a1.5_v&gt;</text></g>
<g id="n-a1_2_q" class="n"><rect x="660" y="197" width="115" height="48" rx="18" fill="#7ac4b6"/><text x="717.5" y="227">&lt;a1.2_q&gt;</text></g>
<g id="n-a1_2_v" class="n"><rect x="852" y="197" width="115" height="48" rx="18" fill="#521667"/><text x="909.5" y="227">&lt;a1.2_v&gt;</text></g>
<g id="n-a1_4_v" class="n"><rect x="1092" y="197" width="115" height="48" rx="18" fill="#1f0d6a"/><text x="1149.5" y="227">&lt;a1.4_v&gt;</text></g>
<g id="n-a1_4_k" class="n"><rect x="1484" y="197" width="115" height="48" rx="18" fill="#6b8716"/><text x="1541.5" y="227">&lt;a1.4_k&gt;</text></g>
<g id="n-a2_0_q" class="n"><rect x="1724" y="197" width="115" height="48" rx="18" fill="#571543"/><text x="1781.5" y="227">&lt;a2.0_q&gt;</text></g>
<g id="n-a1_0_v" class="n"><rect x="2017" y="197" width="115" height="48" rx="18" fill="#529645"/><text x="2074.5" y="227">&lt;a1.0_v&gt;</text></g>
<g id="n-a1_0_q" class="n"><rect x="2156" y="197" width="115" height="48" rx="18" fill="#c653b9"/><text x="2213.5" y="227">&lt;a1.0_q&gt;</text></g>
<g id="n-a1_0_k" class="n"><rect x="2297" y="197" width="115" height="48" rx="18" fill="#04bc3e"/><text x="2354.5" y="227">&lt;a1.0_k&gt;</text></g>
<g id="n-a1_5" class="n"><rect x="500" y="293" width="94" height="48" rx="18" fill="#ea2745"/><text x="547" y="323">&lt;a1.5&gt;</text></g>
<g id="n-a2_3_q" class="n"><rect x="618" y="293" width="115" height="48" rx="18" fill="#7349cb"/><text x="675.5" y="323">&lt;a2.3_q&gt;</text></g>
<g id="n-a1_2" class="n"><rect x="862" y="293" width="94" height="48" rx="18" fill="#a4932e"/><text x="909" y="323">&lt;a1.2&gt;</text></g>
<g id="n-a1_4" class="n"><rect x="1122" y="293" width="94" height="48" rx="18" fill="#5b16d2"/><text x="1169" y="323">&lt;a1.4&gt;</text></g>
<g id="n-a1_6" class="n"><rect x="2080" y="293" width="94" height="48" rx="18" fill="#fd4b68"/><text x="2127" y="323">&lt;a1.6&gt;</text></g>
<g id="n-a1_7" class="n"><rect x="2198" y="293" width="94" height="48" rx="18" fill="#bb047f"/><text x="2245" y="323">&lt;a1.7&gt;</text></g>
<g id="n-a1_0" class="n"><rect x="2317" y="293" width="94" height="48" rx="18" fill="#5c2b94"/><text x="2364" y="323">&lt;a1.0&gt;</text></g>
<g id="n-a2_2_v" class="n"><rect x="2895" y="293" width="115" height="48" rx="18" fill="#844441"/><text x="2952.5" y="323">&lt;a2.2_v&gt;</text></g>
<g id="n-a3_5_v" class="n"><rect x="3192" y="293" width="115" height="48" rx="18" fill="#5e0778"/><text x="3249.5" y="323">&lt;a3.5_v&gt;</text></g>
<g id="n-a2_5_v" class="n"><rect x="601" y="389" width="115" height="48" rx="18" fill="#b962fc"/><text x="658.5" y="419">&lt;a2.5_v&gt;</text></g>
<g id="n-a2_3_v" class="n"><rect x="841" y="389" width="115" height="48" rx="18" fill="#4b7bd4"/><text x="898.5" y="419">&lt;a2.3_v&gt;</text></g>
<g id="n-a2_7_v" class="n"><rect x="1132" y="389" width="115" height="48" rx="18" fill="#7d1e8a"/><text x="1189.5" y="419">&lt;a2.7_v&gt;</text></g>
<g id="n-a2_7_q" class="n"><rect x="1271" y="389" width="115" height="48" rx="18" fill="#fe4542"/><text x="1328.5" y="419">&lt;a2.7_q&gt;</text></g>
<g id="n-a2_1_v" class="n"><rect x="1412" y="389" width="115" height="48" rx="18" fill="#19969a"/><text x="1469.5" y="419">&lt;a2.1_v&gt;</text></g>
<g id="n-a3_5_k" class="n"><rect x="1651" y="389" width="115" height="48" rx="18" fill="#43086d"/><text x="1708.5" y="419">&lt;a3.5_k&gt;</text></g>
<g id="n-a2_0_k" class="n"><rect x="1790" y="389" width="115" height="48" rx="18" fill="#6a6005"/><text x="1847.5" y="419">&lt;a2.0_k&gt;</text></g>
<g id="n-a2_0_v" class="n"><rect x="1929" y="389" width="115" height="48" rx="18" fill="#4be8a5"/><text x="1986.5" y="419">&lt;a2.0_v&gt;</text></g>
<g id="n-a2_2_k" class="n"><rect x="2169" y="389" width="115" height="48" rx="18" fill="#b23b72"/><text x="2226.5" y="419">&lt;a2.2_k&gt;</text></g>
<g id="n-a2_6_v" class="n"><rect x="2307" y="389" width="115" height="48" rx="18" fill="#1cdc5a"/><text x="2364.5" y="419">&lt;a2.6_v&gt;</text></g>
<g id="n-a2_2_q" class="n"><rect x="2601" y="389" width="115" height="48" rx="18" fill="#e80cc8"/><text x="2658.5" y="419">&lt;a2.2_q&gt;</text></g>
<g id="n-a3_5_q" class="n"><rect x="3180" y="389" width="115" height="48" rx="18" fill="#c63c8c"/><text x="3237.5" y="419">&lt;a3.5_q&gt;</text></g>
<g id="n-a2_5" class="n"><rect x="702" y="485" width="94" height="48" rx="18" fill="#10ddd4"/><text x="749" y="515">&lt;a2.5&gt;</text></g>
<g id="n-a2_3" class="n"><rect x="975" y="485" width="94" height="48" rx="18" fill="#a43f7e"/><text x="1022" y="515">&lt;a2.3&gt;</text></g>
<g id="n-a2_7" class="n"><rect x="1196" y="485" width="94" height="48" rx="18" fill="#6b033d"/><text x="1243" y="515">&lt;a2.7&gt;</text></g>
<g id="n-a2_2" class="n"><rect x="1315" y="485" width="94" height="48" rx="18" fill="#9eae28"/><text x="1362" y="515">&lt;a2.2&gt;</text></g>
<g id="n-a2_1" class="n"><rect x="1433" y="485" width="94" height="48" rx="18" fill="#f8e29a"/><text x="1480" y="515">&lt;a2.1&gt;</text></g>
<g id="n-a2_6" class="n"><rect x="1553" y="485" width="94" height="48" rx="18" fill="#3e5aa6"/><text x="1600" y="515">&lt;a2.6&gt;</text></g>
<g id="n-a2_0" class="n"><rect x="1671" y="485" width="94" height="48" rx="18" fill="#5338fe"/><text x="1718" y="515">&lt;a2.0&gt;</text></g>
<g id="n-a3_5" class="n"><rect x="3185" y="485" width="94" height="48" rx="18" fill="#8c4d6c"/><text x="3232" y="515">&lt;a3.5&gt;</text></g>
<g id="n-a3_0_v" class="n"><rect x="329" y="581" width="115" height="48" rx="18" fill="#4541cb"/><text x="386.5" y="611">&lt;a3.0_v&gt;</text></g>
<g id="n-a3_6_v" class="n"><rect x="506" y="581" width="115" height="48" rx="18" fill="#d5cffd"/><text x="563.5" y="611">&lt;a3.6_v&gt;</text></g>
<g id="n-a3_0_k" class="n"><rect x="870" y="581" width="115" height="48" rx="18" fill="#a0678e"/><text x="927.5" y="611">&lt;a3.0_k&gt;</text></g>
<g id="n-a3_0_q" class="n"><rect x="1060" y="581" width="115" height="48" rx="18" fill="#614cc6"/><text x="1117.5" y="611">&lt;a3.0_q&gt;</text></g>
<g id="n-a3_7_q" class="n"><rect x="1200" y="581" width="115" height="48" rx="18" fill="#1f61dd"/><text x="1257.5" y="611">&lt;a3.7_q&gt;</text></g>
<g id="n-a3_7_k" class="n"><rect x="1340" y="581" width="115" height="48" rx="18" fill="#5a7dbd"/><text x="1397.5" y="611">&lt;a3.7_k&gt;</text></g>
<g id="n-a3_7_v" class="n"><rect x="1479" y="581" width="115" height="48" rx="18" fill="#26da22"/><text x="1536.5" y="611">&lt;a3.7_v&gt;</text></g>
<g id="n-a3_6_q" class="n"><rect x="1641" y="581" width="115" height="48" rx="18" fill="#c4f92c"/><text x="1698.5" y="611">&lt;a3.6_q&gt;</text></g>
<g id="n-a3_6_k" class="n"><rect x="1847" y="581" width="115" height="48" rx="18" fill="#bf0bb5"/><text x="1904.5" y="611">&lt;a3.6_k&gt;</text></g>
<g id="n-a3_0" class="n"><rect x="884" y="677" width="94" height="48" rx="18" fill="#724516"/><text x="931" y="707">&lt;a3.0&gt;</text></g>
<g id="n-a3_7" class="n"><rect x="1280" y="677" width="94" height="48" rx="18" fill="#7b2cf0"/><text x="1327" y="707">&lt;a3.7&gt;</text></g>
<g id="n-a3_6" class="n"><rect x="1491" y="677" width="94" height="48" rx="18" fill="#9a7c5c"/><text x="1538" y="707">&lt;a3.6&gt;</text></g>
<g id="n-resid_post" class="n"><rect x="1066" y="773" width="147" height="48" rx="18" fill="#d6d548"/><text x="1139.5" y="803">&lt;resid_post&gt;</text></g>
</g>
</svg>
